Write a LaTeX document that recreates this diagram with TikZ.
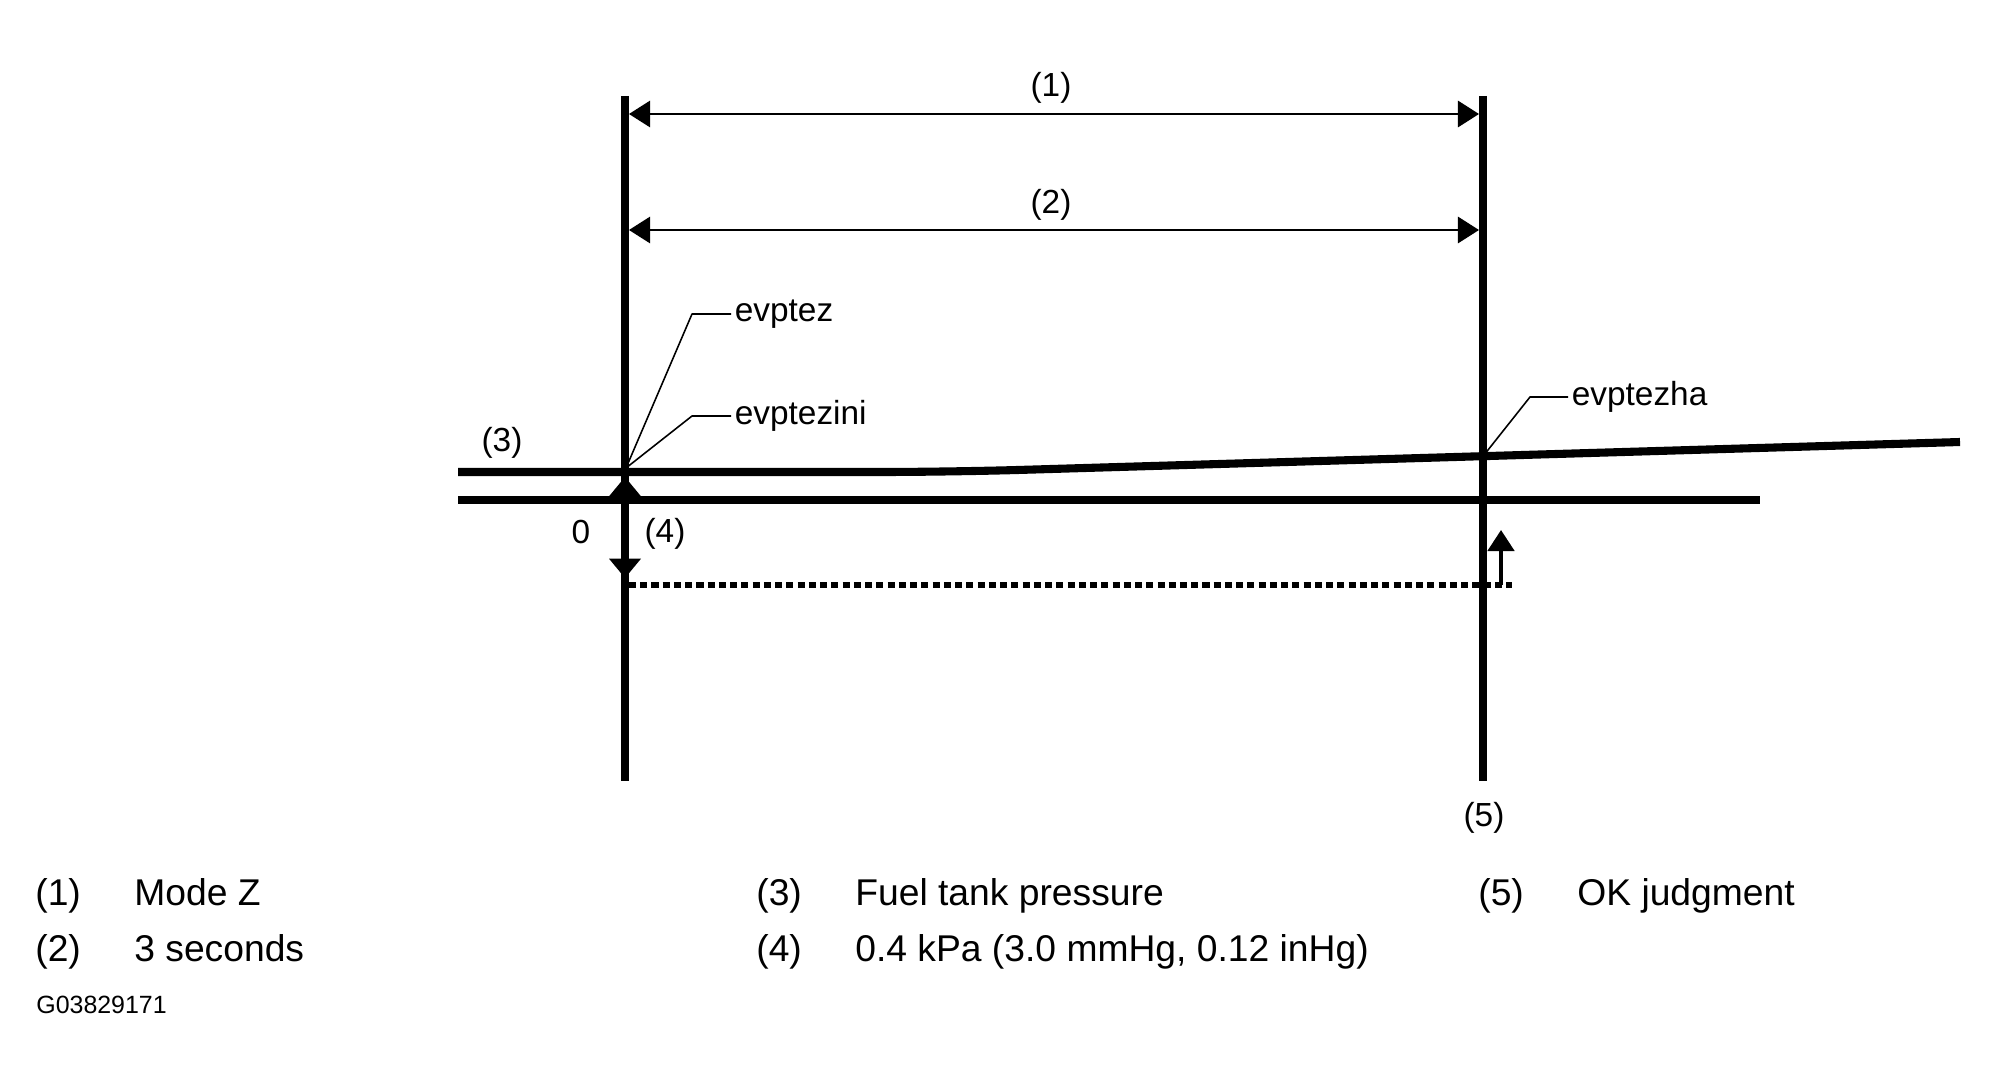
\documentclass[tikz,border=0pt]{standalone}
\usepackage{fontspec}
\setmainfont{Liberation Sans}
\usetikzlibrary{arrows.meta}
\begin{document}
\begin{tikzpicture}[x=0.02cm,y=-0.02cm,font=\fontsize{19}{22}\selectfont, line join=round,
	axis/.style={line width=4.5pt},
	sig/.style={line width=4.6pt},
	dimarr/.style={line width=1.1pt,{Triangle[width=15pt,length=12pt]}-{Triangle[width=15pt,length=12pt]}},
	leader/.style={line width=0.9pt},
	lbl/.style={inner sep=2pt},
	leg/.style={anchor=base west,inner sep=0pt,font=\fontsize{21.2}{25}\selectfont}]
	\useasboundingbox (0,0) rectangle (1998,1088);
	% time marks
	\coordinate (Ltop) at (625,96); \coordinate (Lbot) at (625,781);
	\coordinate (Rtop) at (1483,96); \coordinate (Rbot) at (1483,781);
	\draw[axis] (Ltop)--(Lbot);
	\draw[axis] (Rtop)--(Rbot);
	% periods
	\coordinate (a1) at (629,114); \coordinate (b1) at (1479,114);
	\coordinate (a2) at (629,230); \coordinate (b2) at (1479,230);
	\draw[dimarr] (a1)--(b1);
	\draw[dimarr] (a2)--(b2);
	\node[lbl] (m1) at (1051,88) {(1)};
	\node[lbl] (m2) at (1051,205) {(2)};
	% pressure and zero level
	\coordinate (p0) at (458,472); \coordinate (pa) at (950,472); \coordinate (pe) at (1960,442);
	\draw[sig, rounded corners=40pt] (p0)--(pa)--(pe);
	\coordinate (z0) at (458,500); \coordinate (z1) at (1760,500);
	\draw[sig] (z0)--(z1);
	\coordinate (d0) at (629,585); \coordinate (d1) at (1512,585);
	\draw[line width=3.8pt, dash pattern=on 4pt off 2.4pt] (d0)--(d1);
	% 0.4 kPa
	\coordinate (u0) at (625,477); \coordinate (u1) at (625,578);
	\draw[line width=1pt,{Triangle[width=18pt,length=11pt]}-{Triangle[width=18pt,length=11pt]}] (u0)--(u1);
	\coordinate (k0) at (1501,585); \coordinate (k1) at (1501,530);
	\draw[line width=2.3pt,-{Triangle[width=15pt,length=12pt]}] (k0)--(k1);
	\node[lbl] (n3) at (502,443) {(3)};
	\node[lbl] (n0) at (581,532) {0};
	\node[lbl] (n4) at (665,534) {(4)};
	\node[lbl] (n5) at (1484,818) {(5)};
	% leaders
	\coordinate (s0) at (626,468); \coordinate (s1) at (1484,455);
	\node[lbl,anchor=west] (ez) at (731,314) {evptez};
	\node[lbl,anchor=west] (ezi) at (731,416) {evptezini};
	\node[lbl,anchor=west] (ezh) at (1568,397) {evptezha};
	\coordinate (c1) at (692,314); \coordinate (c2) at (692,416); \coordinate (c3) at (1530,397);
	\draw[leader] (s0)--(c1)--(ez.west);
	\draw[leader] (s0)--(c2)--(ezi.west);
	\draw[leader] (s1)--(c3)--(ezh.west);
	% legend
	\foreach \k/\x/\y/\num/\txt in {1/35/905/(1)/Mode Z, 2/35/961/(2)/3 seconds,
		3/756/905/(3)/Fuel tank pressure, 4/756/961/(4)/{0.4 kPa (3.0 mmHg, 0.12 inHg)},
		5/1478/905/(5)/OK judgment}{
		\node[leg] (num\k) at (\x,\y) {\num};
		\node[leg] (txt\k) at (\x+99,\y) {\txt};}
	\node[leg,font=\fontsize{14.2}{17}\selectfont] (code) at (36,1013) {G03829171};
\end{tikzpicture}
\end{document}
